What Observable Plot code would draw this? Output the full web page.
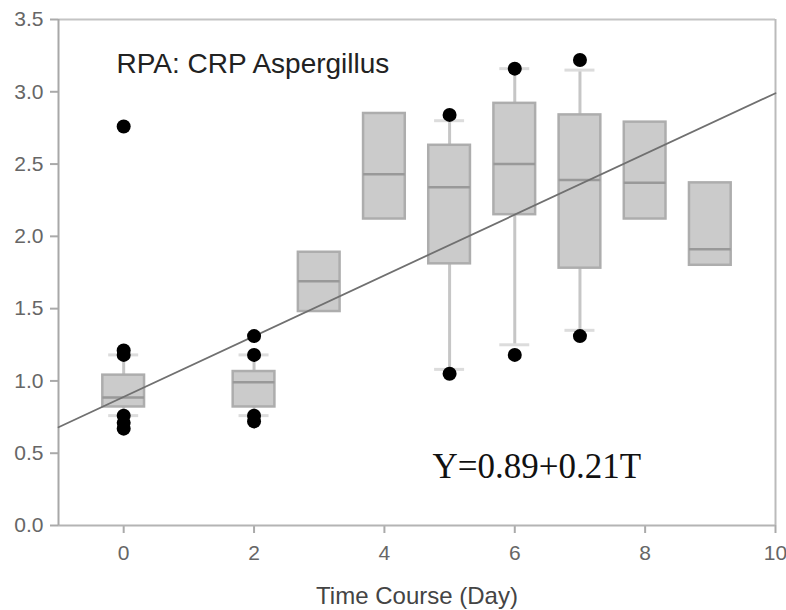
<!DOCTYPE html>
<html>
<head>
<meta charset="utf-8">
<script src="https://cdn.jsdelivr.net/npm/d3@7"></script>
<script src="https://cdn.jsdelivr.net/npm/@observablehq/plot@0.6"></script>
<style>
  html, body { margin: 0; padding: 0; background: #fff; }
  #chart { width: 786px; height: 610px; }
</style>
</head>
<body>
<div id="chart"></div>
<script>
// ---- data ----
const titleText = "RPA: CRP Aspergillus";
const xTitle = "Time Course (Day)";
const equationText = "Y=0.89+0.21T";
const xTicks = [0, 2, 4, 6, 8, 10];
const yTicks = [0, 0.5, 1, 1.5, 2, 2.5, 3, 3.5];

const days        = [0,     2,     3,    4,    5,    6,    7,    8,    9];
const q1          = [0.82,  0.82,  1.48, 2.12, 1.81, 2.15, 1.78, 2.12, 1.80];
const medians     = [0.885, 0.99,  1.69, 2.43, 2.34, 2.50, 2.39, 2.37, 1.91];
const q3          = [1.04,  1.065, 1.89, 2.85, 2.63, 2.92, 2.84, 2.79, 2.37];
const whiskerLow  = [0.76,  0.76,  null, null, 1.08, 1.25, 1.35, null, null];
const whiskerHigh = [1.18,  1.18,  null, null, 2.80, 3.16, 3.15, null, null];

const outlierDays   = [0,    0,    0,    0,    0,    0,    2,    2,    2,    2,    5,    5,    6,    6,    7,    7];
const outlierValues = [2.76, 1.21, 1.18, 0.76, 0.71, 0.67, 1.31, 1.18, 0.76, 0.72, 2.84, 1.05, 3.16, 1.18, 3.22, 1.31];

const intercept = 0.89;
const slope = 0.21;
const lineDays = [-1, 10];

// ---- tables built from the arrays ----
const boxes = days.map((d, i) => ({
  day: d, q1: q1[i], median: medians[i], q3: q3[i],
  lo: whiskerLow[i], hi: whiskerHigh[i]
}));
const whiskered = boxes.filter(b => b.lo != null);
const outliers = outlierDays.map((d, i) => ({day: d, value: outlierValues[i]}));
const fitLine = lineDays.map(d => ({day: d, value: intercept + slope * d}));

const halfBox = 0.32;
const halfCap = 0.23;

const chart = Plot.plot({
  width: 786,
  height: 610,
  marginLeft: 58,
  marginRight: 11,
  marginTop: 19,
  marginBottom: 85,
  style: {fontFamily: "'Liberation Sans', Arial, sans-serif", background: "#fff", overflow: "visible"},
  x: {domain: [-1, 10], label: null},
  y: {domain: [0, 3.5], label: null},
  marks: [
    // axes
    Plot.axisX({ticks: xTicks, tickSize: 8, tickPadding: 12, fontSize: 21, color: "#666", label: null, strokeWidth: 2}),
    Plot.axisY({ticks: yTicks, tickSize: 8, tickPadding: 7, fontSize: 21, color: "#666", label: null, strokeWidth: 2,
                tickFormat: d => d.toFixed(1)}),
    // frame
    Plot.ruleY([3.5], {stroke: "#c4c4c4", strokeWidth: 2}),
    Plot.ruleX([10], {stroke: "#bbb", strokeWidth: 2}),
    Plot.ruleY([0], {stroke: "#b4b4b4", strokeWidth: 2}),
    Plot.ruleX([-1], {stroke: "#a8a8a8", strokeWidth: 2}),
    // whiskers
    Plot.ruleX(whiskered, {x: "day", y1: "q3", y2: "hi", stroke: "#c6c6c6", strokeWidth: 3}),
    Plot.ruleX(whiskered, {x: "day", y1: "lo", y2: "q1", stroke: "#c6c6c6", strokeWidth: 3}),
    Plot.ruleY(whiskered, {y: "hi", x1: d => d.day - halfCap, x2: d => d.day + halfCap, stroke: "#dcdcdc", strokeWidth: 3}),
    Plot.ruleY(whiskered, {y: "lo", x1: d => d.day - halfCap, x2: d => d.day + halfCap, stroke: "#dcdcdc", strokeWidth: 3}),
    // boxes
    Plot.rect(boxes, {x1: d => d.day - halfBox, x2: d => d.day + halfBox, y1: "q1", y2: "q3",
                      fill: "#cbcbcb", stroke: "#adadad", strokeWidth: 2.5}),
    Plot.ruleY(boxes, {y: "median", x1: d => d.day - halfBox, x2: d => d.day + halfBox, stroke: "#999", strokeWidth: 2.5}),
    // regression line
    Plot.line(fitLine, {x: "day", y: "value", stroke: "#707070", strokeWidth: 1.8}),
    // outliers
    Plot.dot(outliers, {x: "day", y: "value", r: 7, fill: "#000", stroke: "none"}),
    // texts
    Plot.text([titleText], {frameAnchor: "top-left", dx: 58, dy: 34, textAnchor: "start", lineAnchor: "top",
                            fontSize: 28, fill: "#222"}),
    Plot.text([equationText], {frameAnchor: "bottom-left", dx: 374, dy: -48, textAnchor: "start", lineAnchor: "bottom",
                               fontSize: 35, fill: "#111", fontFamily: "'Liberation Serif', 'Times New Roman', serif"}),
    Plot.text([xTitle], {frameAnchor: "bottom", dy: 78, lineAnchor: "bottom", fontSize: 24, fill: "#444"})
  ]
});

d3.select(chart).selectAll('[aria-label="x-axis tick"] path, [aria-label="y-axis tick"] path').attr("stroke", "#aaa");
document.getElementById("chart").appendChild(chart);
</script>
</body>
</html>
